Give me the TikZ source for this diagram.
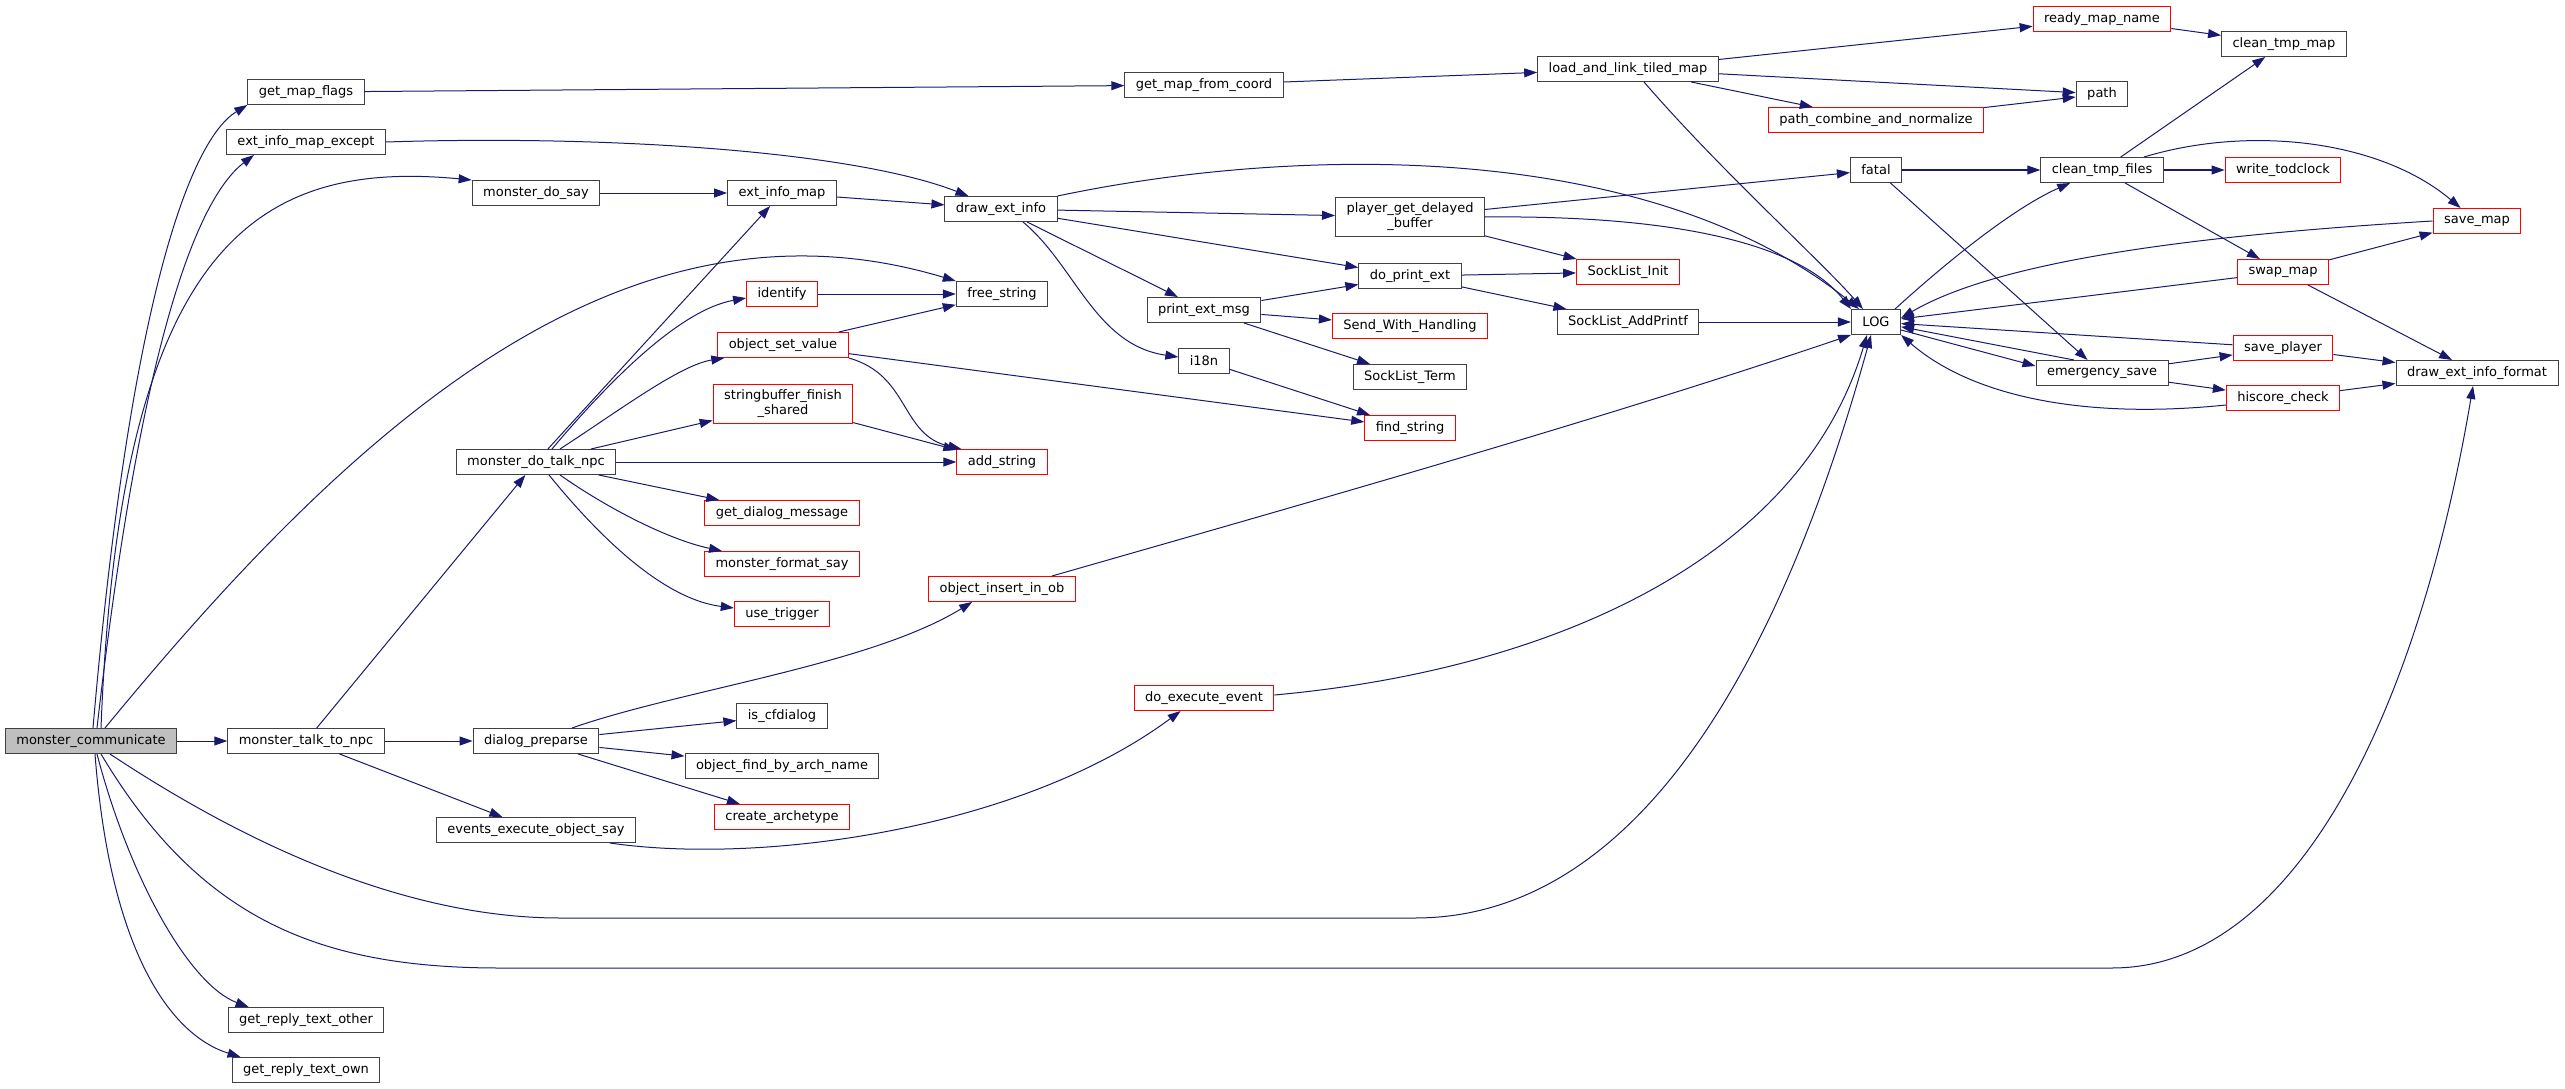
\documentclass[tikz,border=0pt]{standalone}
\usepackage{fontspec}
\setmainfont{DejaVu Sans}
\usetikzlibrary{arrows.meta}
\definecolor{edgeblue}{RGB}{25,25,112}
\definecolor{boxgray}{RGB}{64,64,64}
\definecolor{boxred}{RGB}{255,0,0}
\definecolor{rootfill}{RGB}{191,191,191}

\begin{document}
\begin{tikzpicture}[x=1pt, y=-1pt,
  fn/.style={draw=boxgray, fill=white, line width=1pt, font=\fontsize{13}{15}\selectfont, inner xsep=11pt, inner ysep=6pt, minimum height=25pt, align=center},
  fnred/.style={fn, draw=boxred},
  call/.style={draw=edgeblue, line width=1pt, -{Triangle[length=13pt,width=9pt]}}]
  \useasboundingbox (0,0) rectangle (2565,1089);
  \node[fn, fill=rootfill] (mc) at (91,741) {monster\_communicate};
  \node[fn] (gmf) at (306,92) {get\_map\_flags};
  \node[fn] (eime) at (306,142) {ext\_info\_map\_except};
  \node[fn] (mttn) at (306,741) {monster\_talk\_to\_npc};
  \node[fn] (grto) at (306,1020) {get\_reply\_text\_other};
  \node[fn] (grtw) at (306,1070) {get\_reply\_text\_own};
  \node[fn] (mds) at (536,193) {monster\_do\_say};
  \node[fn] (mdtn) at (536,462) {monster\_do\_talk\_npc};
  \node[fn] (dp) at (536,741) {dialog\_preparse};
  \node[fn] (eeos) at (536,830) {events\_execute\_object\_say};
  \node[fn] (eim) at (782,193) {ext\_info\_map};
  \node[fnred] (ident) at (782,294) {identify};
  \node[fnred] (osv) at (783,345) {object\_set\_value};
  \node[fnred] (sfs) at (783,404) {stringbuffer\_finish\\\_shared};
  \node[fnred] (gdm) at (782,513) {get\_dialog\_message};
  \node[fnred] (mfs) at (782,564) {monster\_format\_say};
  \node[fnred] (ut) at (782,614) {use\_trigger};
  \node[fn] (icd) at (782,716) {is\_cfdialog};
  \node[fn] (ofban) at (782,766) {object\_find\_by\_arch\_name};
  \node[fnred] (ca) at (782,817) {create\_archetype};
  \node[fn] (dei) at (1001,209) {draw\_ext\_info};
  \node[fn] (fs) at (1002,294) {free\_string};
  \node[fnred] (as) at (1002,462) {add\_string};
  \node[fnred] (oiio) at (1002,589) {object\_insert\_in\_ob};
  \node[fn] (gmfc) at (1204,85) {get\_map\_from\_coord};
  \node[fn] (pem) at (1204,310) {print\_ext\_msg};
  \node[fn] (i18n) at (1204,361) {i18n};
  \node[fnred] (dee) at (1204,698) {do\_execute\_event};
  \node[fn] (pgdb) at (1410,217) {player\_get\_delayed\\\_buffer};
  \node[fn] (dpe) at (1410,276) {do\_print\_ext};
  \node[fnred] (swh) at (1410,326) {Send\_With\_Handling};
  \node[fn] (slt) at (1410,377) {SockList\_Term};
  \node[fnred] (fstr) at (1410,428) {find\_string};
  \node[fn] (laltm) at (1628,69) {load\_and\_link\_tiled\_map};
  \node[fnred] (sli) at (1628,272) {SockList\_Init};
  \node[fn] (slap) at (1628,322) {SockList\_AddPrintf};
  \node[fnred] (pcan) at (1876,120) {path\_combine\_and\_normalize};
  \node[fn] (fatal) at (1876,170) {fatal};
  \node[fn] (log) at (1876,322) {LOG};
  \node[fnred] (rmn) at (2102,19) {ready\_map\_name};
  \node[fn] (pth) at (2102,94) {path};
  \node[fn] (ctf) at (2102,170) {clean\_tmp\_files};
  \node[fn] (es) at (2102,373) {emergency\_save};
  \node[fn] (ctm) at (2284,44) {clean\_tmp\_map};
  \node[fnred] (wtc) at (2283,170) {write\_todclock};
  \node[fnred] (swm) at (2283,272) {swap\_map};
  \node[fnred] (sp) at (2283,348) {save\_player};
  \node[fnred] (hc) at (2283,398) {hiscore\_check};
  \node[fnred] (sm) at (2477,221) {save\_map};
  \node[fn] (deif) at (2477,373) {draw\_ext\_info\_format};

  \foreach \a/\b in {mc/mttn, mttn/mdtn, mttn/dp, mttn/eeos, gmf/gmfc, mds/eim, mdtn/eim, mdtn/as, mdtn/gdm,
      dp/icd, dp/ofban, dp/ca, eim/dei, ident/fs, osv/fs, osv/fstr, sfs/as, dei/pgdb, dei/dpe, dei/pem,
      pem/dpe, pem/swh, pem/slt, i18n/fstr, gmfc/laltm, laltm/rmn, laltm/pth, laltm/pcan, pcan/pth,
      rmn/ctm, pgdb/fatal, pgdb/sli, dpe/sli, dpe/slap, slap/log, fatal/ctf, fatal/es, ctf/ctm, ctf/wtc,
      ctf/swm, swm/sm, swm/log, swm/deif, es/sp, es/hc, sp/log, sp/deif, hc/deif}
    \draw[call] (\a) -- (\b);

  \draw[call] ([xshift=2pt]mc.north) .. controls (130,300) and (190,140) .. (gmf.south west);
  \draw[call] ([xshift=6pt]mc.north) .. controls (140,350) and (195,200) .. ([xshift=28pt]eime.south west);
  \draw[call] ([xshift=10pt]mc.north) .. controls (120,240) and (260,160) .. (mds.north west);
  \draw[call] ([xshift=14pt]mc.north) .. controls (350,430) and (620,180) .. (fs.north west);
  \draw[call] ([xshift=19pt]mc.south) .. controls (300,880) and (450,918) .. (560,918) -- (1415,918)
    .. controls (1620,918) and (1770,700) .. ([xshift=-5pt]log.south);
  \draw[call] ([xshift=10pt]mc.south) .. controls (200,920) and (320,968) .. (500,968) -- (2112,968)
    .. controls (2300,968) and (2420,700) .. ([xshift=-4pt]deif.south);
  \draw[call] ([xshift=6pt]mc.south) .. controls (130,880) and (190,985) .. ([xshift=21pt]grto.north west);
  \draw[call] ([xshift=4pt]mc.south) .. controls (110,950) and (170,1035) .. ([xshift=9pt]grtw.north west);
  \draw[call] (eime.east) .. controls (600,135) and (850,150) .. ([xshift=24pt]dei.north west);
  \draw[call] ([xshift=16pt]mdtn.north) .. controls (610,380) and (680,310) .. ([yshift=-4pt]ident.west);
  \draw[call] ([xshift=24pt]mdtn.north) .. controls (620,410) and (680,365) .. ([xshift=7pt]osv.south west);
  \draw[call] ([xshift=55pt]mdtn.north) -- (sfs);
  \draw[call] ([xshift=24pt]mdtn.south) .. controls (610,510) and (670,540) .. ([xshift=18pt]mfs.north west);
  \draw[call] ([xshift=13pt]mdtn.south) .. controls (610,550) and (670,600) .. ([yshift=6pt]ut.west);
  \draw[call] ([xshift=36pt]dp.north) .. controls (680,690) and (870,665) .. ([xshift=44pt]oiio.south west);
  \draw[call] ([xshift=74pt]eeos.south) .. controls (760,865) and (1020,830) .. ([xshift=47pt]dee.south west);
  \draw[call] ([xshift=50pt]oiio.north) .. controls (1300,505) and (1600,420) .. (log.south west);
  \draw[call] ([yshift=3pt]dee.east) .. controls (1550,670) and (1800,560) .. ([xshift=-9pt]log.south);
  \draw[call] (osv.south east) .. controls (910,375) and (900,435) .. ([xshift=5pt]as.north west);
  \draw[call] (dei.north east) .. controls (1300,145) and (1650,140) .. ([xshift=8pt]log.north west);
  \draw[call] ([xshift=22pt]dei.south) .. controls (1075,265) and (1095,345) .. ([yshift=4pt]i18n.west);
  \draw[call] ([xshift=16pt]laltm.south) .. controls (1720,170) and (1820,260) .. ([xshift=12pt]log.north west);
  \draw[call] (pgdb.east) .. controls (1680,215) and (1800,245) .. (log.north west);
  \draw[call] ([xshift=-6pt]log.north east) .. controls (1960,250) and (2020,205) .. ([xshift=30pt]ctf.south west);
  \draw[call] ([yshift=-8pt]log.east) -- ([yshift=7pt]es.west);
  \draw[call] ([xshift=42pt]ctf.north) .. controls (2250,125) and (2380,140) .. ([xshift=28pt]sm.north west);
  \draw[call] (sm.west) .. controls (2200,235) and (2000,260) .. ([yshift=4pt]log.east);
  \draw[call] ([xshift=-28pt]es.north) -- (log);
  \draw[call] ([yshift=-7pt]hc.west) .. controls (2080,420) and (1970,395) .. (log.south east);
\end{tikzpicture}
\end{document}
